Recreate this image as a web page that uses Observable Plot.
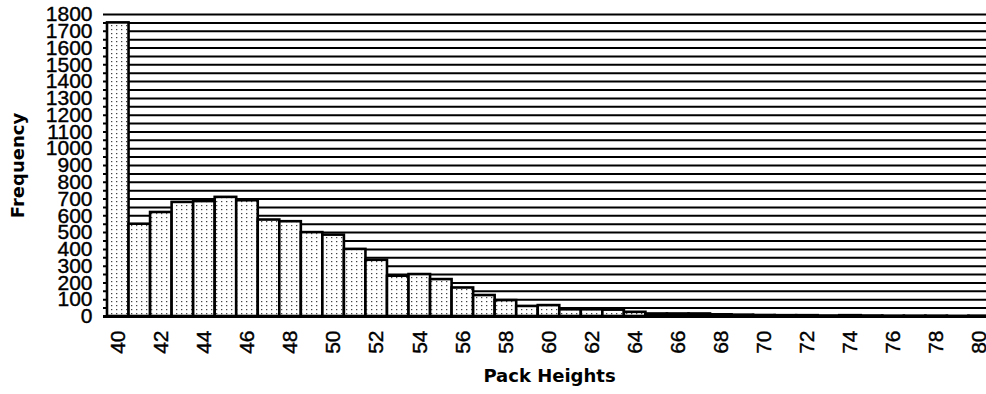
<!DOCTYPE html>
<html><head><meta charset="utf-8">
<script src="https://cdn.jsdelivr.net/npm/d3@7"></script>
<script src="https://cdn.jsdelivr.net/npm/@observablehq/plot@0.6"></script>
<style>
body{margin:0;background:#fff}
g[aria-label="y-axis tick label"] text, g[aria-label="x-axis tick label"] text {stroke:#000;stroke-width:0.4px;font-family:"Liberation Sans",Arial,sans-serif;font-size:21px}
</style>
</head><body><div id="chart"></div>
<script>
const heights = [40,41,42,43,44,45,46,47,48,49,50,51,52,53,54,55,56,57,58,59,60,61,62,63,64,65,66,67,68,69,70,71,72,73,74,75,76,77,78,79,80];
const frequencies = [1750,550,620,680,685,710,690,575,565,500,485,400,335,240,250,220,170,125,95,60,65,40,40,38,25,15,15,15,10,8,6,5,5,3,5,3,2,2,2,1,2];
const yTicks = [0,100,200,300,400,500,600,700,800,900,1000,1100,1200,1300,1400,1500,1600,1700,1800];
const gridValues = d3.range(50, 1801, 50);
const xTicks = [40,42,44,46,48,50,52,54,56,58,60,62,64,66,68,70,72,74,76,78,80];
const yTitle = "Frequency";
const xTitle = "Pack Heights";

const data = heights.map((h, i) => ({h, f: frequencies[i]}));

const chart = Plot.plot({
  width: 986, height: 394,
  marginLeft: 103, marginRight: 0, marginTop: 14, marginBottom: 78,
  style: {fontFamily: "Liberation Sans, Arial, sans-serif", fontSize: "21px", background: "#fff", color: "#000"},
  x: {type: "linear", domain: [39.5, 80.5], range: [107, 990]},
  y: {domain: [0, 1800]},
  marks: [
    Plot.ruleY(gridValues, {stroke: "#000", strokeWidth: 2}),
    Plot.rectY(data, {x1: d => d.h - 0.5, x2: d => d.h + 0.5, y: "f", fill: "url(#dots)", stroke: "#000", strokeWidth: 2.6}),
    Plot.ruleY([0], {stroke: "#000", strokeWidth: 3}),
    Plot.axisY({ticks: yTicks, tickSize: 0, tickPadding: 11, label: null, fontSize: 21, fontFamily: "Liberation Sans, Arial, sans-serif", tickFormat: d => String(d)}),
    Plot.axisX({ticks: xTicks, tickSize: 0, tickRotate: -90, tickPadding: 14, label: null, fontSize: 21, fontFamily: "Liberation Sans, Arial, sans-serif", tickFormat: d => String(d)}),
    Plot.text([yTitle], {frameAnchor: "left", textAnchor: "middle", lineAnchor: "middle", rotate: -90, dx: -85, fontFamily: "DejaVu Sans, sans-serif", fontWeight: "bold", fontSize: 18, fill: "#000"}),
    Plot.text([xTitle], {frameAnchor: "bottom", textAnchor: "middle", lineAnchor: "middle", dx: 4.5, dy: 60, fontFamily: "DejaVu Sans, sans-serif", fontWeight: "bold", fontSize: 18, fill: "#000"})
  ]
});

const svg = d3.select(chart);
const defs = svg.insert("defs", ":first-child");
const p = defs.append("pattern").attr("id", "dots").attr("patternUnits", "userSpaceOnUse").attr("width", 5).attr("height", 4);
p.append("rect").attr("width", 5).attr("height", 4).attr("fill", "#fff");
p.append("rect").attr("x", 1).attr("y", 1).attr("width", 1.3).attr("height", 1.2).attr("fill", "#444");
document.getElementById("chart").appendChild(chart);
</script>
</body></html>
